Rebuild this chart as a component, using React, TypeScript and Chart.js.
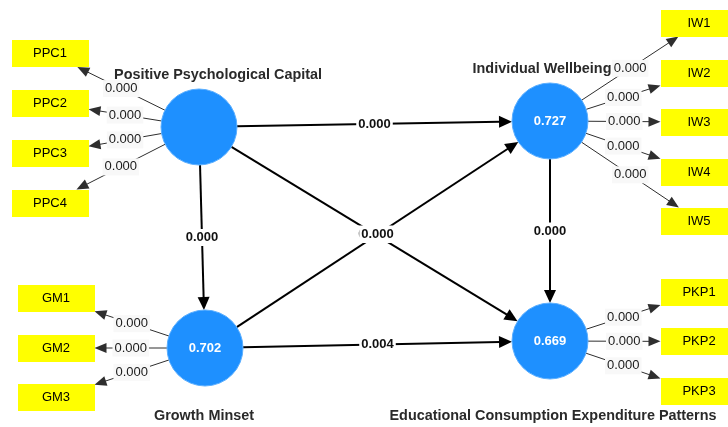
import React, { useEffect, useRef } from "react";
import { Chart, registerables } from "chart.js";

Chart.register(...registerables);

// ---- model data ----
const constructNames = [
  "Positive Psychological Capital",
  "Individual Wellbeing",
  "Growth Minset",
  "Educational Consumption Expenditure Patterns",
];
const rSquared = ["", "0.727", "0.702", "0.669"];

const indicatorNames = [
  "PPC1", "PPC2", "PPC3", "PPC4",
  "IW1", "IW2", "IW3", "IW4", "IW5",
  "GM1", "GM2", "GM3",
  "PKP1", "PKP2", "PKP3",
];
const indicatorConstruct = [0, 0, 0, 0, 1, 1, 1, 1, 1, 2, 2, 2, 3, 3, 3];
const outerPValues = [
  "0.000", "0.000", "0.000", "0.000",
  "0.000", "0.000", "0.000", "0.000", "0.000",
  "0.000", "0.000", "0.000",
  "0.000", "0.000", "0.000",
];

const pathFrom = [0, 0, 0, 2, 2, 1];
const pathTo = [1, 2, 3, 1, 3, 3];
const pathPValues = ["0.000", "0.000", "0.000", "0.000", "0.004", "0.000"];

// ---- layout (diagram coordinates) ----
const constructX = [199, 550, 205, 550];
const constructY = [127, 121, 348, 341];
const titleX = [218, 542, 204, 553];
const titleY = [75, 69, 416, 416];

const indicatorX = [50, 50, 50, 50, 699, 699, 699, 699, 699, 56, 56, 56, 699, 699, 699];
const indicatorY = [53.5, 103, 153, 203, 23, 73, 122, 172, 221, 298.5, 348, 397.5, 292.5, 341.5, 391.5];

const CIRCLE_R = 38;
const RECT_W = 77;
const RECT_H = 27;

function makeRect(): HTMLCanvasElement {
  const c = document.createElement("canvas");
  c.width = RECT_W;
  c.height = RECT_H;
  const g = c.getContext("2d")!;
  g.fillStyle = "#ffff00";
  g.fillRect(0, 0, RECT_W, RECT_H);
  return c;
}

function arrow(
  ctx: CanvasRenderingContext2D,
  x1: number, y1: number, x2: number, y2: number,
  len: number, half: number, width: number, color: string
) {
  const dx = x2 - x1, dy = y2 - y1;
  const d = Math.hypot(dx, dy);
  const ux = dx / d, uy = dy / d;
  const bx = x2 - ux * len, by = y2 - uy * len;
  ctx.save();
  ctx.strokeStyle = color;
  ctx.fillStyle = color;
  ctx.lineWidth = width;
  ctx.beginPath();
  ctx.moveTo(x1, y1);
  ctx.lineTo(bx + ux * 1, by + uy * 1);
  ctx.stroke();
  ctx.beginPath();
  ctx.moveTo(x2, y2);
  ctx.lineTo(bx - uy * half, by + ux * half);
  ctx.lineTo(bx + uy * half, by - ux * half);
  ctx.closePath();
  ctx.fill();
  ctx.restore();
}

function label(
  ctx: CanvasRenderingContext2D, text: string, x: number, y: number,
  font: string, color: string, bg: string
) {
  ctx.save();
  ctx.font = font;
  const w = ctx.measureText(text).width;
  ctx.fillStyle = bg;
  ctx.fillRect(x - w / 2 - 2, y - 8.5, w + 4, 17);
  ctx.fillStyle = color;
  ctx.textAlign = "center";
  ctx.textBaseline = "middle";
  ctx.fillText(text, x, y);
  ctx.restore();
}

const diagramPlugin = {
  id: "diagram",
  beforeDatasetsDraw(chart: any) {
    const ctx: CanvasRenderingContext2D = chart.ctx;
    const sx = chart.scales.x, sy = chart.scales.y;
    const px = (v: number) => sx.getPixelForValue(v);
    const py = (v: number) => sy.getPixelForValue(v);
    const segs: any[] = [];
    // outer model
    indicatorNames.forEach((_, i) => {
      const k = indicatorConstruct[i];
      const cx = px(constructX[k]), cy = py(constructY[k]);
      const rx = px(indicatorX[i]), ry = py(indicatorY[i]);
      const dx = rx - cx, dy = ry - cy;
      const d = Math.hypot(dx, dy);
      const sxp = cx + (dx / d) * CIRCLE_R, syp = cy + (dy / d) * CIRCLE_R;
      const t = Math.min(
        Math.abs(dx) > 0 ? (RECT_W / 2) / Math.abs(dx) : Infinity,
        Math.abs(dy) > 0 ? (RECT_H / 2) / Math.abs(dy) : Infinity
      );
      const ex = rx - dx * t, ey = ry - dy * t;
      arrow(ctx, sxp, syp, ex, ey, 12, 5, 1, "#2e2e2e");
      segs.push({ x: (sxp + ex) / 2, y: (syp + ey) / 2, text: outerPValues[i], inner: false });
    });
    // inner model
    pathFrom.forEach((f, i) => {
      const tIdx = pathTo[i];
      const ax = px(constructX[f]), ay = py(constructY[f]);
      const bx = px(constructX[tIdx]), by = py(constructY[tIdx]);
      const dx = bx - ax, dy = by - ay;
      const d = Math.hypot(dx, dy);
      const ux = dx / d, uy = dy / d;
      const s1x = ax + ux * CIRCLE_R, s1y = ay + uy * CIRCLE_R;
      const e1x = bx - ux * CIRCLE_R, e1y = by - uy * CIRCLE_R;
      arrow(ctx, s1x, s1y, e1x, e1y, 13, 6, 2, "#000000");
      segs.push({ x: (s1x + e1x) / 2, y: (s1y + e1y) / 2, text: pathPValues[i], inner: true });
    });
    chart.$segs = segs;
  },
  afterDatasetsDraw(chart: any) {
    const ctx: CanvasRenderingContext2D = chart.ctx;
    const sx = chart.scales.x, sy = chart.scales.y;
    const px = (v: number) => sx.getPixelForValue(v);
    const py = (v: number) => sy.getPixelForValue(v);
    const fam = '"Liberation Sans", Arial, sans-serif';
    (chart.$segs || []).forEach((s: any) => {
      if (s.inner) label(ctx, s.text, s.x, s.y, `bold 13px ${fam}`, "#111111", "#ffffff");
      else label(ctx, s.text, s.x, s.y, `13px ${fam}`, "#1a1a1a", "#f8f8f8");
    });
    ctx.save();
    ctx.textAlign = "center";
    ctx.textBaseline = "middle";
    // R squared in circles
    ctx.font = `bold 13px ${fam}`;
    ctx.fillStyle = "#ffffff";
    rSquared.forEach((r, k) => {
      if (r) ctx.fillText(r, px(constructX[k]), py(constructY[k]));
    });
    // indicator names
    ctx.font = `13px ${fam}`;
    ctx.fillStyle = "#000000";
    indicatorNames.forEach((n, i) => ctx.fillText(n, px(indicatorX[i]), py(indicatorY[i])));
    // construct titles
    ctx.font = `bold 14.4px ${fam}`;
    ctx.fillStyle = "#2a2a2a";
    constructNames.forEach((n, k) => ctx.fillText(n, px(titleX[k]), py(titleY[k])));
    ctx.restore();
  },
};

export default function App() {
  const ref = useRef<HTMLCanvasElement>(null);
  useEffect(() => {
    if (!ref.current) return;
    const rectImg = makeRect();
    const chart = new Chart(ref.current, {
      type: "scatter",
      data: {
        datasets: [
          {
            label: "Indicators",
            data: indicatorNames.map((_, i) => ({ x: indicatorX[i], y: indicatorY[i] })),
            pointStyle: rectImg as any,
            pointRadius: 10,
            clip: false as any,
          },
          {
            label: "Constructs",
            data: constructNames.map((_, k) => ({ x: constructX[k], y: constructY[k] })),
            pointRadius: CIRCLE_R,
            pointHoverRadius: CIRCLE_R,
            backgroundColor: "#1e90ff",
            borderColor: "#5aaeff",
            borderWidth: 1,
            clip: false as any,
          },
        ],
      },
      options: {
        responsive: false,
        animation: false,
        events: [],
        layout: { padding: 0, autoPadding: false },
        plugins: { legend: { display: false }, tooltip: { enabled: false } },
        scales: {
          x: { type: "linear", min: 0, max: 728, display: false },
          y: { type: "linear", min: 0, max: 427, reverse: true, display: false },
        },
      },
      plugins: [diagramPlugin],
    });
    return () => chart.destroy();
  }, []);
  return (
    <canvas
      ref={ref}
      width={728}
      height={427}
      style={{ position: "fixed", left: 0, top: 0, background: "#ffffff" }}
    />
  );
}
